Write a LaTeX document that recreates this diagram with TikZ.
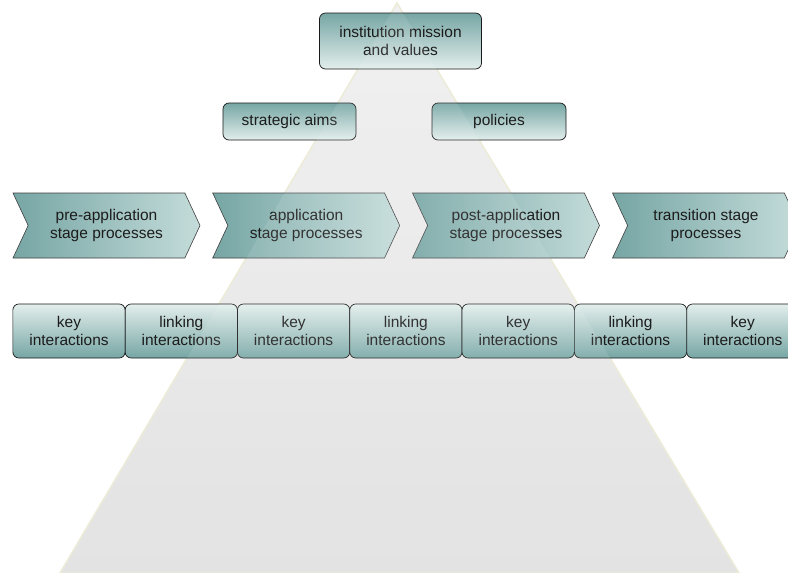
\documentclass[tikz,border=0pt]{standalone}
\usepackage{fontspec}
\setmainfont{Liberation Sans}
\usetikzlibrary{positioning}
\usetikzlibrary{shapes.symbols}
\definecolor{tealdark}{RGB}{118,166,164}
\definecolor{teallight}{RGB}{226,238,236}
\definecolor{chevlight}{RGB}{196,220,218}
\definecolor{textgray}{RGB}{28,28,28}
\definecolor{pyrtop}{RGB}{240,240,240}
\definecolor{pyrbottom}{RGB}{224,224,224}
\definecolor{pyredge}{RGB}{236,234,214}
\tikzset{
  boxfont/.style={font=\fontsize{15.5}{18}\selectfont, text=textgray, align=center},
  roundbox/.style={boxfont, draw=black!90, line width=0.7pt, rounded corners=6pt, inner sep=2pt},
  topbox/.style={roundbox, top color=tealdark, bottom color=teallight},
  stagearrow/.style={boxfont, signal, signal to=east, signal from=west, signal pointer angle=130,
    draw=black!75, line width=0.6pt, left color=tealdark, right color=chevlight,
    minimum width=187pt, minimum height=65pt, inner sep=1pt},
  interbox/.style={roundbox, top color=teallight, bottom color=tealdark,
    minimum width=112.3pt, minimum height=54pt}
}

\begin{document}
\begin{tikzpicture}[x=1pt, y=-1pt]
    \useasboundingbox (0,0) rectangle (788,573);
    \clip (0,0) rectangle (788,573);
    \fill[white] (0,0) rectangle (788,573);

    % pyramid in the background
    \path[draw=pyredge, line width=1.5pt, top color=pyrtop, bottom color=pyrbottom]
        (397,3) -- (739,573) -- (60,573) -- cycle;

    % top levels
    \node (mission) at (400.5,41) [topbox, minimum width=162pt, minimum height=56pt] {institution mission\\and values};
    \node (aims) at (289.5,121.5) [topbox, minimum width=133pt, minimum height=37pt] {strategic aims};
    \node (policies) at (499,121.5) [topbox, minimum width=134pt, minimum height=37pt] {policies};

    % stages
    \node (pre) at (106.5,225.5) [stagearrow] {pre-application\\stage processes};
    \node (app) at (306.2,225.5) [stagearrow] {application\\stage processes};
    \node (post) at (506,225.5) [stagearrow] {post-application\\stage processes};
    \node (trans) at (706,225.5) [stagearrow] {transition stage\\processes};

    % interactions
    \foreach \kind [count=\i from 0] in {key,linking,key,linking,key,linking,key}
        \node (inter\i) at ({69+112.3*\i},331) [interbox] {\kind\\interactions};

    % pyramid shows through the boxes
    \fill[white, fill opacity=0.1] (397,3) -- (739,573) -- (60,573) -- cycle;
\end{tikzpicture}
\end{document}
